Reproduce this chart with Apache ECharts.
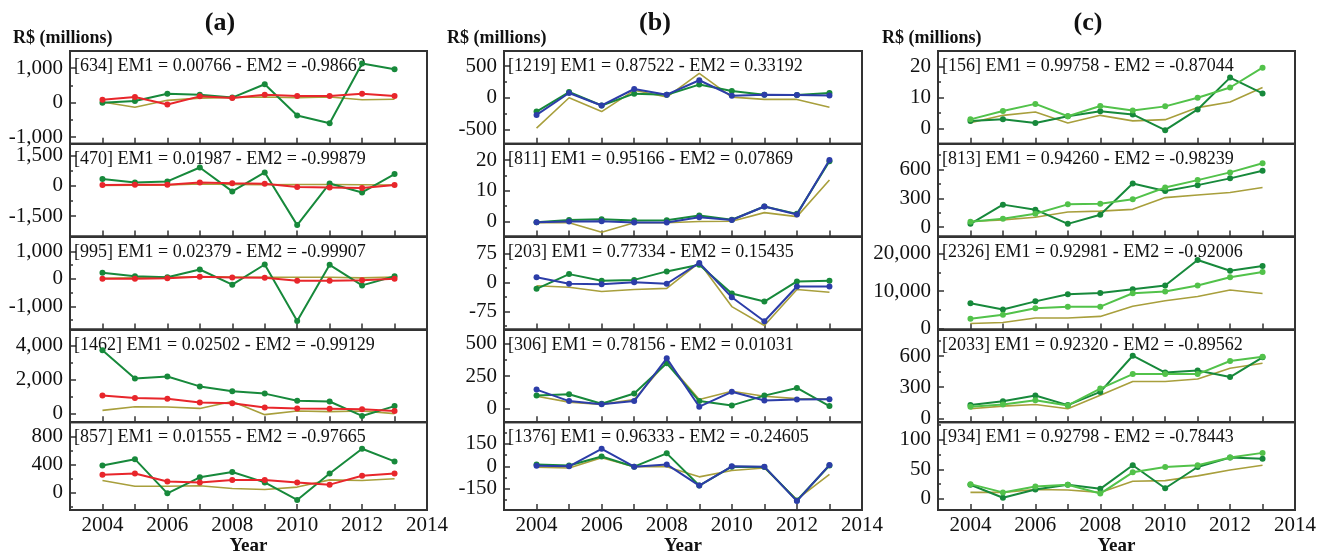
<!DOCTYPE html>
<html><head><meta charset="utf-8">
<script src="https://cdn.jsdelivr.net/npm/echarts@6/dist/echarts.min.js"></script>
<style>html,body{margin:0;padding:0;background:#fff}#c{width:1324px;height:557px}</style>
</head><body><div id="c"></div>
<script>
// ---------------- DATA ----------------
const years = [2004, 2005, 2006, 2007, 2008, 2009, 2010, 2011, 2012, 2013];
const xLabelValues = [2004, 2006, 2008, 2010, 2012, 2014];
const columnTitles = ['(a)', '(b)', '(c)'];
const yUnit = 'R$ (millions)';
const xName = 'Year';

// column (a): olive = reference, green, red
const a1Label = '[634] EM1 = 0.00766 - EM2 = -0.98662';
const a1Olive = [20, -130, 70, 135, 150, 165, 145, 165, 85, 100];
const a1Green = [0, 50, 260, 230, 150, 535, -370, -595, 1140, 970];
const a1Red = [85, 165, -50, 185, 135, 230, 195, 195, 260, 195];
const a1Ticks = [-1000, 0, 1000];

const a2Label = '[470] EM1 = 0.01987 - EM2 = -0.99879';
const a2Olive = [10, 30, 40, 90, 60, 50, 60, 60, 50, 40];
const a2Green = [330, 165, 215, 905, -280, 660, -1950, 115, -330, 580];
const a2Red = [35, 50, 50, 165, 130, 100, -65, -80, -115, 35];
const a2Ticks = [-1500, 0, 1500];

const a3Label = '[995] EM1 = 0.02379 - EM2 = -0.99907';
const a3Olive = [20, 40, 60, 80, 70, 60, 60, 60, 40, 70];
const a3Green = [225, 100, 65, 345, -210, 527, -1535, 515, -235, 100];
const a3Red = [5, 5, 30, 80, 55, 45, -65, -65, -50, 5];
const a3Ticks = [-1000, 0, 1000];

const a4Label = '[1462] EM1 = 0.02502 - EM2 = -0.99129';
const a4Olive = [200, 415, 400, 315, 720, -50, 160, 125, 160, 10];
const a4Green = [3717, 2063, 2180, 1600, 1315, 1180, 760, 720, -125, 450];
const a4Red = [1065, 930, 875, 660, 620, 375, 315, 300, 260, 160];
const a4Ticks = [0, 2000, 4000];

const a5Label = '[857] EM1 = 0.01555 - EM2 = -0.97665';
const a5Olive = [174, 92, 92, 100, 60, 46, 80, 183, 174, 200];
const a5Green = [389, 480, -10, 220, 297, 147, -105, 275, 630, 448];
const a5Red = [256, 275, 160, 147, 183, 183, 147, 115, 242, 275];
const a5Ticks = [0, 400, 800];

// column (b): olive, green, blue
const b1Label = '[1219] EM1 = 0.87522 - EM2 = 0.33192';
const b1Olive = [-481, 0, -220, 117, 10, 385, 10, -27, -27, -150];
const b1Green = [-220, 90, -123, 64, 48, 208, 106, 48, 42, 74];
const b1Blue = [-272, 74, -123, 138, 48, 277, 32, 48, 42, 37];
const b1Ticks = [-500, 0, 500];

const b2Label = '[811] EM1 = 0.95166 - EM2 = 0.07869';
const b2Olive = [-0.4, -0.4, -3.5, -0.4, -0.4, 0, 0.1, 2.9, 1.6, 13.5];
const b2Green = [-0.2, 0.5, 0.75, 0.3, 0.4, 1.95, 0.6, 4.9, 2.5, 19.6];
const b2Blue = [-0.2, 0, 0.1, -0.3, -0.3, 1.4, 0.5, 4.9, 2.3, 20];
const b2Ticks = [0, 10, 20];

const b3Label = '[203] EM1 = 0.77334 - EM2 = 0.15435';
const b3Olive = [-8, -12, -23, -18, -15, 52, -62, -111, -18, -25];
const b3Green = [-16, 22, 5, 7, 29, 46, -28, -49, 3, 5];
const b3Blue = [14, -3, -4, 1, -3, 51, -38, -100, -10, -10];
const b3Ticks = [-75, 0, 75];

const b4Label = '[306] EM1 = 0.78156 - EM2 = 0.01031';
const b4Olive = [95, 50, 33, 70, 360, 70, 133, 95, 77, 73];
const b4Green = [100, 110, 38, 116, 348, 58, 25, 100, 159, 20];
const b4Blue = [146, 58, 33, 58, 386, 15, 129, 63, 70, 73];
const b4Ticks = [0, 250, 500];

const b5Label = '[1376] EM1 = 0.96333 - EM2 = -0.24605';
const b5Olive = [-6, -11, 57, -2, -2, -70, -28, -11, -221, -54];
const b5Green = [13, 6, 66, -2, 87, -128, -2, -4, -228, 6];
const b5Blue = [4, 0, 117, -2, 13, -128, 0, -2, -232, 10];
const b5Ticks = [-150, 0, 150];

// column (c): olive, dark green, light green
const c1Label = '[156] EM1 = 0.99758 - EM2 = -0.87044';
const c1Olive = [1.9, 4.3, 5.4, 1.8, 4.3, 2.5, 2.9, 6.8, 8.6, 13.3];
const c1Dark = [2.5, 3, 1.8, 4, 5.6, 4.6, -0.5, 6.2, 16.5, 11.4];
const c1Light = [3, 5.7, 8, 4, 7.3, 5.9, 7.2, 10, 13.3, 19.7];
const c1Ticks = [0, 10, 20];

const c2Label = '[813] EM1 = 0.94260 - EM2 = -0.98239';
const c2Olive = [59, 76, 104, 157, 167, 185, 307, 334, 359, 412];
const c2Dark = [35, 234, 182, 35, 130, 453, 376, 436, 506, 585];
const c2Light = [56, 88, 140, 237, 244, 289, 412, 488, 568, 662];
const c2Ticks = [0, 300, 600];

const c3Label = '[2326] EM1 = 0.92981 - EM2 = -0.92006';
const c3Olive = [1300, 1570, 2790, 2790, 3210, 5920, 7390, 8540, 10270, 9320];
const c3Dark = [6700, 5050, 7230, 9140, 9480, 10440, 11490, 18280, 15400, 16700];
const c3Light = [2610, 3650, 5400, 5820, 5820, 9400, 9840, 11490, 13660, 15070];
const c3Ticks = [0, 10000, 20000];

const c4Label = '[2033] EM1 = 0.92320 - EM2 = -0.89562';
const c4Olive = [92, 117, 133, 92, 222, 355, 355, 378, 483, 530];
const c4Dark = [127, 165, 219, 127, 254, 603, 441, 460, 397, 588];
const c4Light = [111, 133, 174, 124, 286, 426, 426, 426, 552, 593];
const c4Ticks = [0, 300, 600];

const c5Label = '[934] EM1 = 0.92798 - EM2 = -0.78443';
const c5Olive = [11, 11, 16, 15, 11, 30, 31, 39, 49, 57];
const c5Dark = [24, 2, 16, 24, 17, 57, 18, 54, 70, 68];
const c5Light = [25, 11, 21, 24, 9, 45, 54, 57, 70, 78];
const c5Ticks = [0, 50, 100];

// ---------------- LAYOUT / STYLE ----------------
const FONT = '"Liberation Serif", "Times New Roman", serif';
const C_OLIVE = '#a89f3c', C_GREEN = '#17893b', C_RED = '#e8262b', C_BLUE = '#2c3da8', C_LIGHT = '#52c24a';
const colLeft = [70, 504, 938], colWidth = [357, 358, 357];
const rowTop = 51, rowH = 92.8;

// [label, olive, second, third, ticks, minors, min, max, thirdColor, secondColor]
const panels = [
  [a1Label, a1Olive, a1Green, a1Red, a1Ticks, [-500, 500], -1190, 1500, C_RED, C_GREEN],
  [a2Label, a2Olive, a2Green, a2Red, a2Ticks, [-750, 750], -2520, 2080, C_RED, C_GREEN],
  [a3Label, a3Olive, a3Green, a3Red, a3Ticks, [-1500, -500, 500], -1840, 1545, C_RED, C_GREEN],
  [a4Label, a4Olive, a4Green, a4Red, a4Ticks, [1000, 3000], -490, 4930, C_RED, C_GREEN],
  [a5Label, a5Olive, a5Green, a5Red, a5Ticks, [-200, 200, 600], -250, 1010, C_RED, C_GREEN],
  [b1Label, b1Olive, b1Green, b1Blue, b1Ticks, [-250, 250], -730, 740, C_BLUE, C_GREEN],
  [b2Label, b2Olive, b2Green, b2Blue, b2Ticks, [5, 15], -4.9, 25.3, C_BLUE, C_GREEN],
  [b3Label, b3Olive, b3Green, b3Blue, b3Ticks, [-112.5, -37.5, 37.5], -121, 119, C_BLUE, C_GREEN],
  [b4Label, b4Olive, b4Green, b4Blue, b4Ticks, [125, 375], -104, 608, C_BLUE, C_GREEN],
  [b5Label, b5Olive, b5Green, b5Blue, b5Ticks, [-225, -75, 75, 225], -292, 295, C_BLUE, C_GREEN],
  [c1Label, c1Olive, c1Dark, c1Light, c1Ticks, [5, 15], -4.9, 25.1, C_LIGHT, C_GREEN],
  [c2Label, c2Olive, c2Dark, c2Light, c2Ticks, [150, 450, 750], -97, 864, C_LIGHT, C_GREEN],
  [c3Label, c3Olive, c3Dark, c3Light, c3Ticks, [5000, 15000], -260, 24540, C_LIGHT, C_GREEN],
  [c4Label, c4Olive, c4Dark, c4Light, c4Ticks, [150, 450, 750], -38, 857, C_LIGHT, C_GREEN],
  [c5Label, c5Olive, c5Dark, c5Light, c5Ticks, [25, 75, 125], -19, 130, C_LIGHT, C_GREEN]
];

function fmt(v) {
  const s = String(Math.abs(v)).replace(/\B(?=(\d{3})+(?!\d))/g, ',');
  return (v < 0 ? '-' : '') + s;
}
const yearFmt = v => String(Math.round(v));
const pairs = arr => years.map((y, i) => [y, arr[i]]);

const grid = [], xAxis = [], yAxis = [], series = [], graphic = [];
panels.forEach((p, i) => {
  const col = Math.floor(i / 5), row = i % 5;
  const left = colLeft[col], top = rowTop + row * rowH;
  grid.push({ left: left, top: top, width: colWidth[col], height: rowH,
    show: true, borderColor: '#333', borderWidth: 2, backgroundColor: 'transparent' });
  const last = row === 4;
  xAxis.push({
    type: 'value', gridIndex: i, min: 2003, max: 2014,
    axisLine: { show: true, onZero: false, lineStyle: { color: '#333', width: 2 } },
    axisTick: { show: true, inside: true, length: 6, customValues: years, lineStyle: { color: '#333', width: 1.5 } },
    axisLabel: { show: last, customValues: xLabelValues, formatter: yearFmt, fontFamily: FONT, fontSize: 21, color: '#111', margin: 5 },
    splitLine: { show: false },
    name: last ? xName : '', nameLocation: 'middle', nameGap: 22,
    nameTextStyle: { fontFamily: FONT, fontWeight: 'bold', fontSize: 19, color: '#111' }
  });
  yAxis.push({
    type: 'value', gridIndex: i, min: p[6], max: p[7], position: 'left',
    axisLine: { show: true, onZero: false, lineStyle: { color: '#333', width: 2 } },
    axisTick: { show: true, inside: true, length: 6, customValues: p[4], lineStyle: { color: '#333', width: 1.5 } },
    axisLabel: { show: true, customValues: p[4], formatter: fmt, fontFamily: FONT, fontSize: 21, color: '#111', margin: 7 },
    splitLine: { show: false }
  });
  yAxis.push({
    type: 'value', gridIndex: i, min: p[6], max: p[7], position: 'left', offset: 0,
    axisLine: { show: false },
    axisTick: { show: true, inside: true, length: 3, customValues: p[5], lineStyle: { color: '#333', width: 1.5 } },
    axisLabel: { show: false },
    splitLine: { show: false }
  });
  const yi = i * 2;
  series.push({ type: 'line', xAxisIndex: i, yAxisIndex: yi, data: pairs(p[1]), showSymbol: false, symbol: 'none',
    lineStyle: { color: C_OLIVE, width: 1.6 }, itemStyle: { color: C_OLIVE }, z: 3, animation: false });
  series.push({ type: 'line', xAxisIndex: i, yAxisIndex: yi, data: pairs(p[2]), symbol: 'circle', symbolSize: 6,
    lineStyle: { color: p[9], width: 2 }, itemStyle: { color: p[9] }, z: 4, animation: false });
  series.push({ type: 'line', xAxisIndex: i, yAxisIndex: yi, data: pairs(p[3]), symbol: 'circle', symbolSize: 6,
    lineStyle: { color: p[8], width: 2 }, itemStyle: { color: p[8] }, z: 5, animation: false });
  graphic.push({ type: 'text', x: left + 4, y: top + 15.5, z: 1,
    style: { text: p[0], font: '18px ' + FONT, fill: '#111', verticalAlign: 'middle', align: 'left' } });
});

const titleX = [220, 655, 1088];
const unitX = [13, 447, 882];
for (let c = 0; c < 3; c++) {
  graphic.push({ type: 'text', x: titleX[c], y: 23, z: 1,
    style: { text: columnTitles[c], font: 'bold 26px ' + FONT, fill: '#111', align: 'center', verticalAlign: 'middle' } });
  graphic.push({ type: 'text', x: unitX[c], y: 38, z: 1,
    style: { text: yUnit, font: 'bold 18px ' + FONT, fill: '#111', align: 'left', verticalAlign: 'middle' } });
}

const chart = echarts.init(document.getElementById('c'), null, { renderer: 'canvas' });
chart.setOption({
  animation: false,
  backgroundColor: '#fff',
  grid, xAxis, yAxis, series, graphic
});
</script>
</body></html>
